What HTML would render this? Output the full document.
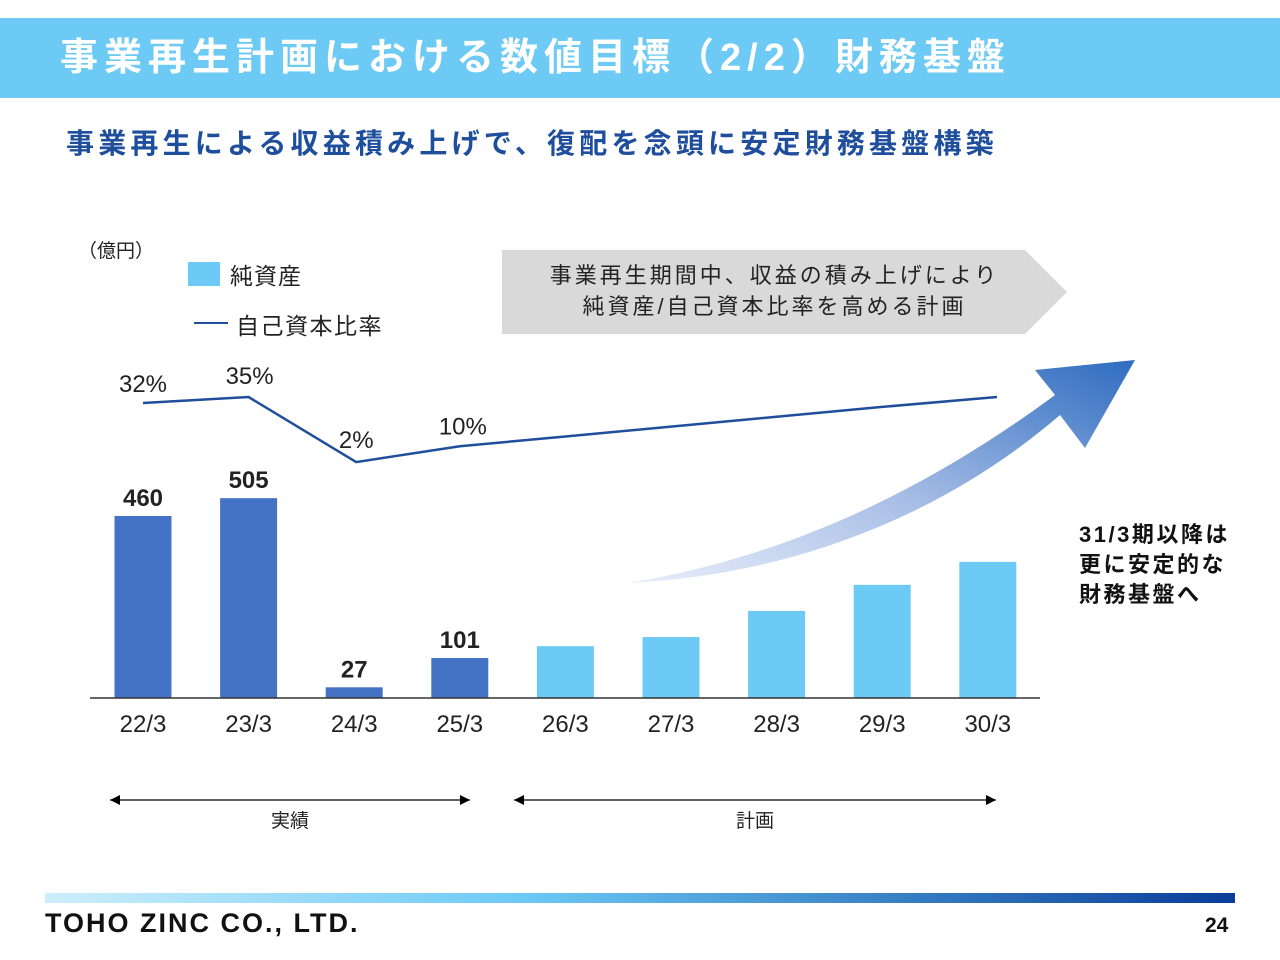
<!DOCTYPE html>
<html><head><meta charset="utf-8">
<style>
body{margin:0;width:1280px;height:960px;background:#fff;position:relative;overflow:hidden;font-family:"Liberation Sans","Noto Sans CJK JP",sans-serif;}
.abs{position:absolute;}
</style></head><body>
<div class="abs" style="left:0;top:18px;width:1280px;height:80px;background:#6ccaf5;"></div>
<div class="abs" style="left:60px;top:26px;font-size:38px;font-weight:bold;color:#fff;letter-spacing:6px;">事業再生計画における数値目標（2/2）財務基盤</div>
<div class="abs" style="left:66px;top:122px;font-size:28px;font-weight:bold;color:#1f4e9c;letter-spacing:4.2px;">事業再生による収益積み上げで、復配を念頭に安定財務基盤構築</div>
<div class="abs" style="left:78px;top:236px;font-size:19px;color:#222;">（億円）</div>
<div class="abs" style="left:188px;top:262px;width:32px;height:24px;background:#6ccaf5;"></div>
<div class="abs" style="left:230px;top:257px;font-size:23px;color:#222;letter-spacing:1px;">純資産</div>
<div class="abs" style="left:194px;top:322px;width:34px;height:2px;background:#1f4e9c;"></div>
<div class="abs" style="left:236px;top:307px;font-size:23px;color:#222;letter-spacing:1.5px;">自己資本比率</div>
<svg class="abs" style="left:0;top:0" width="1280" height="960">
<defs>
<linearGradient id="ag" x1="0" y1="1" x2="1" y2="0">
<stop offset="0" stop-color="#e8eefa"/><stop offset="0.45" stop-color="#a9bfe6"/><stop offset="1" stop-color="#2e6cc0"/></linearGradient>
</defs>
<polygon points="502,250 1025,250 1067,292 1025,334 502,334" fill="#d9d9d9"/>
<path d="M628,583 C800,575 950,510 1060,415 L1085,448 L1135,360 L1035,370 L1055,395 C940,480 800,555 628,583 Z" fill="url(#ag)"/>
<g id="plot"></g>
<line x1="110" y1="800" x2="470" y2="800" stroke="#000" stroke-width="1.2"/>
<polygon points="110,800 120,795 120,805"/><polygon points="470,800 460,795 460,805"/>
<line x1="514" y1="800" x2="996" y2="800" stroke="#000" stroke-width="1.2"/>
<polygon points="514,800 524,795 524,805"/><polygon points="996,800 986,795 986,805"/>
<text x="290" y="827" font-size="19" text-anchor="middle" fill="#222">実績</text>
<text x="755" y="827" font-size="19" text-anchor="middle" fill="#222">計画</text>
<defs><linearGradient id="fg" x1="0" x2="1"><stop offset="0" stop-color="#cdeefc"/><stop offset="0.4" stop-color="#6ccaf5"/><stop offset="1" stop-color="#0a3d98"/></linearGradient></defs>
<rect x="45" y="893" width="1190" height="10" fill="url(#fg)"/>
</svg>
<div class="abs" style="left:502px;top:260px;width:545px;text-align:center;font-size:22px;line-height:31px;color:#222;letter-spacing:3px;">事業再生期間中、収益の積み上げにより<br>純資産/自己資本比率を高める計画</div>
<div class="abs" style="left:1079px;top:520px;font-size:22px;line-height:30px;font-weight:bold;color:#111;letter-spacing:2.5px;">31/3期以降は<br>更に安定的な<br>財務基盤へ</div>
<div class="abs" style="left:45px;top:908px;font-size:27px;font-weight:900;color:#111;letter-spacing:2px;">TOHO ZINC CO., LTD.</div>
<div class="abs" style="left:1205px;top:914px;font-size:21px;font-weight:bold;color:#111;">24</div>
<script>
const categories=["22/3","23/3","24/3","25/3","26/3","27/3","28/3","29/3","30/3"];
const netAssets=[460,505,27,101,131,154,220,286,344];
const assetLabels=["460","505","27","101","","","","",""];
const ratio=[32,35,2,10,15,20,25,30,35];
const ratioLabels=["32%","35%","2%","10%","","","","",""];
const NS="http://www.w3.org/2000/svg";
const g=document.getElementById("plot");
const base=698;
function x(i){return 143+i*105.6;}
function yb(v){return base-v*0.3957;}
function yr(v){return 466-v*1.97;}
function el(t,a){const e=document.createElementNS(NS,t);for(const k in a)e.setAttribute(k,a[k]);g.appendChild(e);return e;}
categories.forEach((c,i)=>{
 const r=el("rect",{x:x(i)-28.5,y:yb(netAssets[i]),width:57,height:base-yb(netAssets[i]),fill:i<4?"#4472c4":"#6ccaf5"});
 
 
 const t=el("text",{x:x(i),y:732,"font-size":24,"text-anchor":"middle",fill:"#222"});t.textContent=c;
 
 
 if(assetLabels[i]){const v=el("text",{x:x(i),y:yb(netAssets[i])-10,"font-size":24,"font-weight":"bold","text-anchor":"middle",fill:"#222"});v.textContent=assetLabels[i];
 
 }
});
el("line",{x1:90,y1:base,x2:1040,y2:base,stroke:"#333","stroke-width":1.5});
let d="";ratio.forEach((v,i)=>{d+=(i?"L":"M")+(i==8?997:x(i)+(i==2?2:0))+","+yr(v);});
const p=el("path",{d:d,fill:"none",stroke:"#1f4e9c","stroke-width":2.5});


const off=[[0,-11],[1,-13],[2,-14],[3,-12]];
ratioLabels.forEach((l,i)=>{if(!l)return;const t=el("text",{x:x(i)+off[i][0],y:yr(ratio[i])+off[i][1],"font-size":24,"text-anchor":"middle",fill:"#222"});t.textContent=l;
 
 });
</script>
</body></html>
